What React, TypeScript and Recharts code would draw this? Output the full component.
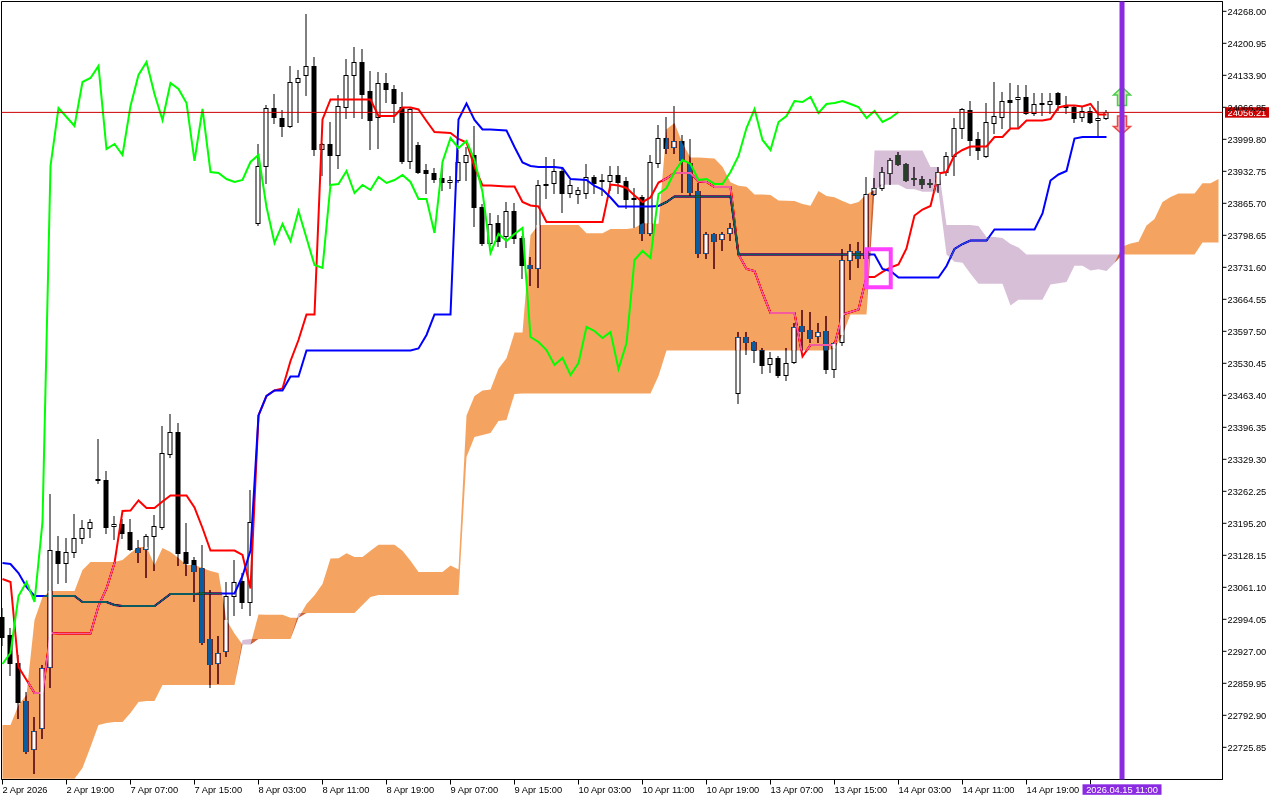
import {
  Area,
  Bar,
  CartesianGrid,
  ComposedChart,
  Line,
  ReferenceArea,
  ReferenceDot,
  ReferenceLine,
  XAxis,
  YAxis,
} from "recharts";

const FONT = "'Liberation Sans', Arial, sans-serif";

// H1 candles, bar 0 = 2 Apr 11:00
const opens = [
  22998.9, 22961.2, 22902.5, 22822.9, 22722.3, 22766.3, 22894.1, 23137.2, 23112.0, 23135.1,
  23164.4, 23185.4, 23288.1, 23286.0, 23189.6, 23193.8, 23177.0, 23143.5, 23141.4, 23168.6,
  23187.5, 23340.4, 23386.5, 23135.1, 23118.3, 23101.6, 22952.8, 22902.5, 22927.7, 23042.9,
  23074.3, 23030.3, 23824.4, 23943.9, 24065.4, 24044.5, 24027.7, 24119.9, 24134.6, 24153.4,
  23979.5, 23990.0, 23966.9, 24067.5, 24134.6, 24161.8, 24101.0, 24046.5, 24117.8, 24105.2,
  24067.5, 23954.4, 23987.9, 23935.5, 23929.2, 23918.7, 23910.4, 23914.5, 23952.3, 23966.9,
  23858.0, 23782.5, 23824.4, 23797.2, 23849.6, 23793.0, 23736.4, 23730.2, 23904.1, 23908.3,
  23933.4, 23887.3, 23885.2, 23887.3, 23920.8, 23912.5, 23912.5, 23925.0, 23912.5, 23876.8,
  23878.9, 23803.5, 23950.2, 24002.5, 23983.7, 23996.3, 23950.2, 23891.5, 23761.6, 23801.4,
  23790.9, 23803.5, 23468.2, 23585.6, 23575.1, 23558.3, 23529.0, 23541.6, 23506.0, 23533.2,
  23608.6, 23600.3, 23587.7, 23598.2, 23518.5, 23575.1, 23746.9, 23765.8, 23751.1, 23885.2,
  23897.8, 23929.2, 23966.9, 23948.1, 23918.7, 23916.6, 23908.3, 23906.2, 23931.3, 23964.8,
  24023.5, 24061.2, 24000.5, 23964.8, 24034.0, 24046.5, 24082.2, 24084.3, 24088.5, 24054.9,
  24073.8, 24073.8, 24096.8, 24069.6, 24067.5, 24046.5, 24059.1, 24040.3, 24044.5,
];
const highs = [
  23017.8, 22975.9, 22919.3, 22841.8, 22789.4, 22898.3, 23256.6, 23168.6, 23164.4, 23214.7,
  23202.1, 23204.2, 23371.9, 23304.8, 23210.5, 23204.2, 23204.2, 23160.2, 23172.8, 23212.6,
  23399.1, 23424.2, 23405.4, 23195.9, 23124.6, 23149.8, 23055.5, 22959.1, 23072.2, 23118.3,
  23091.1, 23265.0, 23990.0, 24071.7, 24094.7, 24061.2, 24153.4, 24145.0, 24262.4, 24172.3,
  23992.1, 24036.1, 24092.6, 24168.1, 24193.2, 24189.0, 24142.9, 24140.8, 24138.7, 24113.6,
  24098.9, 24065.4, 23994.2, 23948.1, 23939.7, 23939.7, 23922.9, 23977.4, 23983.7, 24027.7,
  23864.3, 23845.4, 23841.2, 23868.4, 23866.4, 23797.2, 23753.2, 23914.5, 23962.7, 23958.5,
  23941.8, 23914.5, 23899.9, 23948.1, 23925.0, 23927.1, 23943.9, 23943.9, 23920.8, 23897.8,
  23883.1, 23966.9, 24029.8, 24046.5, 24069.6, 24008.8, 24000.5, 23908.3, 23805.6, 23803.5,
  23805.6, 23824.4, 23596.1, 23596.1, 23577.2, 23562.5, 23554.2, 23545.8, 23562.5, 23614.9,
  23642.2, 23638.0, 23614.9, 23629.6, 23575.1, 23770.0, 23780.4, 23784.6, 23920.8, 23918.7,
  23941.8, 23960.6, 23973.2, 23950.2, 23941.8, 23922.9, 23916.6, 23941.8, 23973.2, 24044.5,
  24065.4, 24080.1, 24015.1, 24075.9, 24119.9, 24098.9, 24117.8, 24113.6, 24113.6, 24096.8,
  24096.8, 24096.8, 24098.9, 24090.6, 24071.7, 24067.5, 24067.5, 24080.1, 24061.2,
];
const lows = [
  22940.2, 22877.4, 22787.3, 22713.9, 22672.0, 22745.4, 22852.2, 23070.1, 23072.2, 23124.6,
  23154.0, 23166.5, 23279.7, 23174.9, 23162.3, 23164.4, 23139.3, 23114.1, 23082.7, 23097.4,
  23183.3, 23334.1, 23107.9, 23086.9, 23032.4, 22942.3, 22852.2, 22860.6, 22917.2, 23003.1,
  23017.8, 23003.1, 23820.3, 23908.3, 24034.0, 24006.7, 24025.6, 24036.1, 24092.6, 23966.9,
  23925.0, 23904.1, 23939.7, 24044.5, 24046.5, 24044.5, 23979.5, 23981.6, 24078.0, 24036.1,
  23950.2, 23939.7, 23929.2, 23887.3, 23910.4, 23893.6, 23897.8, 23910.4, 23914.5, 23818.2,
  23778.4, 23778.4, 23776.3, 23774.2, 23782.5, 23709.2, 23694.5, 23690.3, 23876.8, 23887.3,
  23847.5, 23878.9, 23866.4, 23876.8, 23887.3, 23883.1, 23893.6, 23887.3, 23855.9, 23816.1,
  23788.8, 23799.3, 23941.8, 23971.1, 23971.1, 23889.4, 23883.1, 23753.2, 23751.1, 23730.2,
  23767.9, 23788.8, 23447.3, 23550.0, 23533.2, 23510.2, 23512.2, 23501.8, 23495.5, 23531.1,
  23558.3, 23575.1, 23575.1, 23510.2, 23501.8, 23568.8, 23707.1, 23732.3, 23746.9, 23883.1,
  23893.6, 23906.2, 23946.0, 23912.5, 23904.1, 23897.8, 23899.9, 23889.4, 23925.0, 23925.0,
  24002.5, 23966.9, 23958.5, 23962.7, 24013.0, 24023.5, 24025.6, 24023.5, 24052.8, 24050.7,
  24050.7, 24054.9, 24061.2, 24054.9, 24036.1, 24038.2, 24034.0, 24004.6, 24042.4,
];
const closes = [
  22957.0, 22902.5, 22820.8, 22718.1, 22760.0, 22892.0, 23139.3, 23112.0, 23135.1, 23164.4,
  23185.4, 23198.0, 23286.0, 23187.5, 23193.8, 23174.9, 23141.4, 23135.1, 23168.6, 23189.6,
  23342.5, 23386.5, 23133.0, 23112.0, 23095.3, 22946.5, 22900.4, 22923.5, 23042.9, 23072.2,
  23030.3, 23198.0, 23943.9, 24065.4, 24046.5, 24027.7, 24119.9, 24128.3, 24153.4, 23979.5,
  23990.0, 23966.9, 24069.6, 24134.6, 24161.8, 24094.7, 24040.3, 24117.8, 24105.2, 24075.9,
  23954.4, 24063.3, 23931.3, 23929.2, 23916.6, 23910.4, 23914.5, 23952.3, 23966.9, 23858.0,
  23782.5, 23822.4, 23786.7, 23849.6, 23793.0, 23736.4, 23730.2, 23904.1, 23906.2, 23933.4,
  23887.3, 23904.1, 23893.6, 23920.8, 23908.3, 23914.5, 23925.0, 23910.4, 23874.7, 23874.7,
  23803.5, 23952.3, 24002.5, 23981.6, 23996.3, 23956.5, 23889.4, 23761.6, 23801.4, 23786.7,
  23801.4, 23814.0, 23585.6, 23575.1, 23558.3, 23526.9, 23541.6, 23506.0, 23531.1, 23606.5,
  23598.2, 23583.5, 23596.1, 23518.5, 23573.0, 23746.9, 23765.8, 23751.1, 23885.2, 23897.8,
  23931.3, 23956.5, 23948.1, 23914.5, 23916.6, 23906.2, 23906.2, 23931.3, 23964.8, 24023.5,
  24063.3, 23998.4, 23977.4, 24036.1, 24048.6, 24080.1, 24078.0, 24088.5, 24054.9, 24073.8,
  24075.9, 24080.1, 24073.8, 24067.5, 24044.5, 24059.1, 24036.1, 24044.5, 24057.0,
];

const tenkan = [
  23078.5, 23072.2, 22894.1, 22866.9, 22839.7, 22839.7, 22965.4, 22964.3, 22964.3, 22964.3,
  22964.3, 22964.3, 23021.9, 23058.6, 23112.0, 23221.0, 23222.0, 23243.0, 23227.3, 23227.3,
  23240.9, 23253.5, 23253.5, 23253.5, 23228.3, 23185.4, 23138.2, 23138.2, 23138.2, 23138.2,
  23128.8, 23058.6, 23421.1, 23462.0, 23473.5, 23477.7, 23535.3, 23579.3, 23632.7, 23632.7,
  24041.3, 24083.2, 24083.2, 24083.2, 24083.2, 24083.2, 24083.2, 24048.6, 24048.6, 24048.6,
  24066.5, 24066.5, 24062.3, 24038.2, 24015.1, 24014.1, 24013.0, 24000.5, 23993.1, 23941.8,
  23903.0, 23903.0, 23902.0, 23900.9, 23900.9, 23868.4, 23861.1, 23859.0, 23826.5, 23826.5,
  23826.5, 23826.5, 23826.5, 23826.5, 23826.5, 23826.5, 23905.1, 23903.0, 23897.8, 23882.1,
  23868.4, 23877.9, 23909.3, 23917.7, 23929.2, 23929.2, 23929.2, 23911.4, 23910.4, 23899.9,
  23899.9, 23899.9, 23758.4, 23728.1, 23723.9, 23677.8, 23635.9, 23635.9, 23635.9, 23635.9,
  23544.7, 23568.8, 23568.8, 23568.8, 23568.8, 23632.7, 23638.0, 23643.2, 23711.3, 23711.3,
  23721.8, 23731.2, 23737.5, 23771.0, 23840.2, 23852.7, 23860.1, 23928.2, 23931.3, 23966.9,
  23977.4, 23984.7, 23984.7, 23984.7, 24004.6, 24004.6, 24022.5, 24022.5, 24039.2, 24039.2,
  24039.2, 24042.4, 24066.5, 24070.6, 24070.6, 24068.6, 24073.8, 24051.8, 24051.8,
];
const kijun = [
  23112.0, 23110.0, 23091.1, 23061.8, 23042.9, 23042.9, 23042.9, 23042.9, 23042.9, 23042.9,
  23030.3, 23030.3, 23030.3, 23030.3, 23024.0, 23021.9, 23021.9, 23021.9, 23021.9, 23021.9,
  23034.5, 23047.1, 23047.1, 23047.1, 23047.1, 23048.1, 23048.1, 23048.1, 23048.1, 23048.1,
  23084.8, 23138.2, 23421.1, 23462.0, 23473.5, 23473.5, 23502.8, 23502.8, 23557.3, 23557.3,
  23557.3, 23557.3, 23557.3, 23557.3, 23557.3, 23557.3, 23557.3, 23557.3, 23557.3, 23557.3,
  23557.3, 23557.3, 23561.5, 23589.8, 23632.7, 23632.7, 23632.7, 24041.3, 24074.8, 24040.3,
  24020.4, 24020.4, 24019.3, 24018.3, 23983.7, 23951.2, 23943.9, 23941.8, 23941.8, 23941.8,
  23939.7, 23916.6, 23915.6, 23914.5, 23902.0, 23894.6, 23877.9, 23859.0, 23859.0, 23859.0,
  23859.0, 23859.0, 23860.1, 23868.4, 23880.0, 23880.0, 23880.0, 23880.0, 23880.0, 23880.0,
  23880.0, 23880.0, 23758.4, 23758.4, 23758.4, 23758.4, 23758.4, 23758.4, 23758.4, 23758.4,
  23758.4, 23758.4, 23758.4, 23758.4, 23758.4, 23758.4, 23758.4, 23758.4, 23758.4, 23758.4,
  23728.1, 23723.9, 23710.3, 23710.3, 23710.3, 23710.3, 23710.3, 23710.3, 23734.4, 23770.0,
  23780.4, 23787.8, 23787.8, 23787.8, 23810.8, 23810.8, 23810.8, 23810.8, 23810.8, 23810.8,
  23844.4, 23913.5, 23926.1, 23933.4, 24001.5, 24004.6, 24004.6, 24004.6, 24004.6,
];
// senkou spans as drawn (already shifted 26 bars ahead)
const spanA = [
  22772.6, 22772.6, 22814.5, 22835.5, 22992.6, 23040.8, 23053.4, 23053.4, 23053.4, 23053.4,
  23097.4, 23114.1, 23114.1, 23114.1, 23114.1, 23118.3, 23133.0, 23145.6, 23145.6, 23107.9,
  23143.5, 23135.1, 23122.5, 23107.9, 23107.9, 23101.6, 23095.3, 23091.1, 22992.6, 22964.3,
  22941.3, 22941.3, 23004.1, 23003.6, 23003.6, 23003.6, 22997.3, 22997.3, 23026.1, 23044.5,
  23068.0, 23121.5, 23122.0, 23132.5, 23124.6, 23124.6, 23137.7, 23150.3, 23150.3, 23150.3,
  23137.7, 23116.8, 23093.2, 23093.2, 23093.2, 23093.2, 23106.8, 23098.4, 23421.1, 23462.0,
  23473.5, 23475.6, 23519.1, 23541.1, 23595.0, 23595.0, 23799.3, 23820.3, 23820.3, 23820.3,
  23820.3, 23820.3, 23820.3, 23803.0, 23803.0, 23803.0, 23811.9, 23811.9, 23811.9, 23814.0,
  23823.9, 23823.4, 23822.9, 24020.9, 24034.0, 23991.0, 23961.7, 23961.7, 23960.6, 23959.6,
  23942.3, 23909.8, 23902.5, 23900.4, 23884.2, 23884.2, 23883.1, 23871.6, 23871.1, 23870.5,
  23864.3, 23860.6, 23891.5, 23881.0, 23878.4, 23870.5, 23863.7, 23868.4, 23884.7, 23893.1,
  23904.6, 23904.6, 23904.6, 23895.7, 23895.2, 23889.9, 23889.9, 23889.9, 23758.4, 23743.3,
  23741.2, 23718.1, 23697.2, 23697.2, 23697.2, 23697.2, 23651.6, 23663.6, 23663.6, 23663.6,
  23663.6, 23695.6, 23698.2, 23700.8, 23734.9, 23734.9, 23724.9, 23727.5, 23723.9, 23740.6,
  23775.2, 23781.5, 23785.2, 23819.2, 23832.8, 23868.4, 23878.9, 23886.3, 23886.3, 23886.3,
  23907.7, 23907.7, 23916.6,
];
const spanB = [
  22660.0, 22660.0, 22660.0, 22660.0, 22660.0, 22660.0, 22660.0, 22660.0, 22660.0, 22660.0,
  22682.5, 22726.5, 22772.6, 22776.8, 22778.9, 22778.9, 22797.8, 22820.8, 22822.9, 22822.9,
  22856.4, 22856.4, 22856.4, 22856.4, 22856.4, 22856.4, 22856.4, 22856.4, 22856.4, 22856.4,
  22950.7, 22952.8, 22952.8, 22952.8, 22952.8, 22952.8, 22952.8, 23007.3, 23007.3, 23007.3,
  23007.3, 23007.3, 23007.3, 23007.3, 23007.3, 23024.0, 23040.8, 23045.0, 23045.0, 23045.0,
  23045.0, 23045.0, 23045.0, 23045.0, 23045.0, 23045.0, 23045.0, 23045.0, 23334.1, 23376.1,
  23380.2, 23384.4, 23409.6, 23411.7, 23466.2, 23467.2, 23467.2, 23467.2, 23467.2, 23467.2,
  23467.2, 23467.2, 23467.2, 23467.2, 23467.2, 23467.2, 23467.2, 23467.2, 23467.2, 23467.2,
  23467.2, 23467.2, 23503.9, 23557.3, 23557.3, 23557.3, 23557.3, 23557.3, 23557.3, 23557.3,
  23557.3, 23557.3, 23557.3, 23557.3, 23557.3, 23557.3, 23557.3, 23557.3, 23557.3, 23557.3,
  23557.3, 23557.3, 23557.3, 23557.3, 23561.5, 23589.8, 23632.7, 23632.7, 23632.7, 23976.4,
  23976.4, 23976.4, 23976.4, 23976.4, 23976.4, 23976.4, 23941.8, 23941.8, 23820.3, 23820.3,
  23820.3, 23820.3, 23818.2, 23795.1, 23795.1, 23793.0, 23780.4, 23773.1, 23758.4, 23758.4,
  23758.4, 23758.4, 23758.4, 23758.4, 23758.4, 23758.4, 23758.4, 23758.4, 23758.4, 23758.4,
  23758.4, 23758.4, 23758.4, 23758.4, 23758.4, 23758.4, 23758.4, 23758.4, 23758.4, 23758.4,
  23783.6, 23783.6, 23783.6,
];

const timeTicks = [0, 8, 16, 24, 32, 40, 48, 56, 64, 72, 80, 88, 96, 104, 112, 120, 128, 136];
const timeLabels = [
  "2 Apr 2026", "2 Apr 19:00", "7 Apr 07:00", "7 Apr 15:00", "8 Apr 03:00", "8 Apr 11:00",
  "8 Apr 19:00", "9 Apr 07:00", "9 Apr 15:00", "10 Apr 03:00", "10 Apr 11:00", "10 Apr 19:00",
  "13 Apr 07:00", "13 Apr 15:00", "14 Apr 03:00", "14 Apr 11:00", "14 Apr 19:00", "",
];
const priceTicks = [
  24268.0, 24200.95, 24133.9, 24066.85, 23999.8, 23932.75, 23865.7, 23798.65, 23731.6, 23664.55,
  23597.5, 23530.45, 23463.4, 23396.35, 23329.3, 23262.25, 23195.2, 23128.15, 23061.1, 22994.05,
  22927.0, 22859.95, 22792.9, 22725.85,
];

const xDomain = [-0.125, 152.5];
const yDomain = [22658.38, 24288.54];
const bidPrice = 24056.21;
const markerBar = 139.94;
const markerLabel = "2026.04.15 11:00";
const boxBars = [107.98, 111.03];
const boxPrices = [23689.7, 23769.3];
const arrowUpTip = 24109.4;
const arrowDownTip = 24010.9;

const rows = spanA.map((a, j) => {
  const b = spanB[j];
  const has = j < closes.length;
  return {
    x: j,
    open: has ? opens[j] : null,
    high: has ? highs[j] : null,
    low: has ? lows[j] : null,
    close: has ? closes[j] : null,
    tenkan: has ? tenkan[j] : null,
    kijun: has ? kijun[j] : null,
    chikou: j + 26 < closes.length ? closes[j + 26] : null,
    spanA: a,
    spanB: b,
    up: a >= b ? [b, a] : [a, a],
    down: b > a ? [a, b] : [b, b],
  };
});

const range = (d: any) => (d.high == null ? null : [d.low, d.high]);

function geom(props: any) {
  const { x, y, width, height, payload } = props;
  if (!payload || payload.high == null || !isFinite(y) || !isFinite(height)) return null;
  const top = Math.min(y, y + height);
  const bot = Math.max(y, y + height);
  const k = (bot - top) / (payload.high - payload.low);
  const py = (v: number) => top + (payload.high - v) * k;
  return { cx: x + width / 2, top, bot, py };
}

function Candle(props: any) {
  const g = geom(props);
  if (!g) return null;
  const d = props.payload;
  const { cx, top, bot, py } = g;
  const bull = d.close >= d.open;
  const b1 = Math.round(py(Math.max(d.open, d.close))) + 0.5;
  const b2 = Math.round(py(Math.min(d.open, d.close))) + 0.5;
  return (
    <g>
      <line x1={cx} x2={cx} y1={Math.round(top)} y2={Math.round(bot) + 1} stroke="#000" />
      {b2 - b1 < 1 ? (
        <line x1={cx - 2.5} x2={cx + 2.5} y1={b1} y2={b1} stroke="#000" />
      ) : (
        <rect x={cx - 2} y={b1} width={4} height={b2 - b1} fill={bull ? "#fff" : "#000"} stroke="#000" />
      )}
    </g>
  );
}

// white inside of bull bodies where the cloud inverted them
function BullFill(props: any) {
  const g = geom(props);
  if (!g) return null;
  const d = props.payload;
  if (d.close <= d.open) return null;
  const { cx, py } = g;
  const b1 = Math.round(py(d.close)) + 0.5;
  const b2 = Math.round(py(d.open)) + 0.5;
  const ya = py(d.spanA);
  const yb = py(d.spanB);
  const t = Math.max(b1 + 0.5, Math.min(ya, yb));
  const b = Math.min(b2 - 0.5, Math.max(ya, yb));
  if (b <= t) return null;
  return <rect x={cx - 1.5} y={t} width={3} height={b - t} fill="#fff" />;
}

function TimeTick({ x, y, payload }: any) {
  const k = timeTicks.indexOf(payload.value);
  return (
    <text x={x} y={y + 6} fontSize={9.3} fontFamily={FONT} fill="#000">
      {timeLabels[k]}
    </text>
  );
}

function PriceTick({ x, y, payload }: any) {
  return (
    <text x={x} y={y + 3.3} fontSize={9.3} fontFamily={FONT} fill="#000">
      {Number(payload.value).toFixed(2)}
    </text>
  );
}

function BidTag({ viewBox }: any) {
  const x = viewBox.x + viewBox.width;
  const y = viewBox.y;
  return (
    <g>
      <rect x={x + 2.5} y={y - 5.2} width={44} height={10.5} fill="#cc0000" />
      <text x={x + 5} y={y + 3.3} fontSize={9.3} fontFamily={FONT} fill="#fff">
        {bidPrice.toFixed(2)}
      </text>
    </g>
  );
}

function TimeTag({ viewBox }: any) {
  const cx = viewBox.x;
  const bottom = viewBox.y + viewBox.height;
  return (
    <g>
      <rect x={cx - 39.5} y={bottom + 4.8} width={79} height={10.5} fill="#8a2be2" />
      <text x={cx} y={bottom + 13} textAnchor="middle" fontSize={9.3} fontFamily={FONT} fill="#fff">
        {markerLabel}
      </text>
    </g>
  );
}

function UpArrow({ cx, cy }: any) {
  const d = `M${cx},${cy} L${cx + 8.5},${cy + 8} L${cx + 4.5},${cy + 8} L${cx + 4.5},${cy + 18.5} L${cx - 4.5},${cy + 18.5} L${cx - 4.5},${cy + 8} L${cx - 8.5},${cy + 8} Z`;
  return <path d={d} fill="#c8f2a6" stroke="#4ccd4c" strokeWidth={1.5} />;
}

function DownArrow({ cx, cy }: any) {
  const d = `M${cx},${cy} L${cx + 8.5},${cy - 7.5} L${cx + 4.5},${cy - 7.5} L${cx + 4.5},${cy - 18} L${cx - 4.5},${cy - 18} L${cx - 4.5},${cy - 7.5} L${cx - 8.5},${cy - 7.5} Z`;
  return <path d={d} fill="#f6b4b4" stroke="#e84848" strokeWidth={1.5} />;
}

const css = `.recharts-area-area { mix-blend-mode: difference; }`;

export default function App() {
  return (
    <div style={{ position: "fixed", left: 0, top: 0, width: 1280, height: 800, background: "#fff" }}>
      <style>{css}</style>
      <ComposedChart width={1280} height={800} data={rows} margin={{ top: 1.5, right: 0, bottom: 0, left: 1.5 }}>
        <CartesianGrid horizontal={false} vertical={false} fill="#fff" />
        <XAxis
          dataKey="x"
          type="number"
          domain={xDomain}
          ticks={timeTicks}
          interval={0}
          height={20.5}
          tickSize={5}
          axisLine={{ stroke: "#000" }}
          tickLine={{ stroke: "#000" }}
          tick={(p: any) => <TimeTick {...p} />}
        />
        <XAxis xAxisId="ov" dataKey="x" type="number" domain={xDomain} hide />
        <YAxis
          orientation="right"
          type="number"
          domain={yDomain}
          ticks={priceTicks}
          interval={0}
          width={57.5}
          tickSize={4}
          tickMargin={1}
          axisLine={{ stroke: "#000" }}
          tickLine={{ stroke: "#000" }}
          tick={(p: any) => <PriceTick {...p} />}
        />
        <ReferenceArea x1={xDomain[0]} x2={xDomain[1]} y1={yDomain[0]} y2={yDomain[1]} fill="none" stroke="#000" zIndex={50} />
        <Bar dataKey={range} barSize={5} shape={(p: any) => <Candle {...p} />} isAnimationActive={false} zIndex={300} />
        <Line dataKey="tenkan" type="linear" stroke="#ff0000" strokeWidth={2} dot={false} activeDot={false} isAnimationActive={false} zIndex={400} />
        <Line dataKey="kijun" type="linear" stroke="#0000ff" strokeWidth={2} dot={false} activeDot={false} isAnimationActive={false} zIndex={400} />
        <Area dataKey="up" type="linear" fill="#0b5b9f" fillOpacity={1} stroke="none" isAnimationActive={false} zIndex={450} />
        <Area dataKey="down" type="linear" fill="#274027" fillOpacity={1} stroke="none" isAnimationActive={false} zIndex={450} />
        <Bar xAxisId="ov" dataKey={range} barSize={5} shape={(p: any) => <BullFill {...p} />} isAnimationActive={false} zIndex={460} />
        <Line dataKey="chikou" type="linear" stroke="#00ff00" strokeWidth={2} dot={false} activeDot={false} isAnimationActive={false} zIndex={470} />
        <ReferenceArea x1={boxBars[0]} x2={boxBars[1]} y1={boxPrices[0]} y2={boxPrices[1]} fill="none" stroke="#ff40ff" strokeWidth={4} zIndex={490} />
        <ReferenceDot x={markerBar} y={arrowUpTip} r={1} shape={(p: any) => <UpArrow {...p} />} zIndex={495} />
        <ReferenceDot x={markerBar} y={arrowDownTip} r={1} shape={(p: any) => <DownArrow {...p} />} zIndex={495} />
        <ReferenceLine y={bidPrice} stroke="#cc0000" strokeWidth={1} label={<BidTag />} zIndex={1500} />
        <ReferenceLine x={markerBar} stroke="#8a2be2" strokeWidth={5} label={<TimeTag />} zIndex={1600} />
      </ComposedChart>
    </div>
  );
}
